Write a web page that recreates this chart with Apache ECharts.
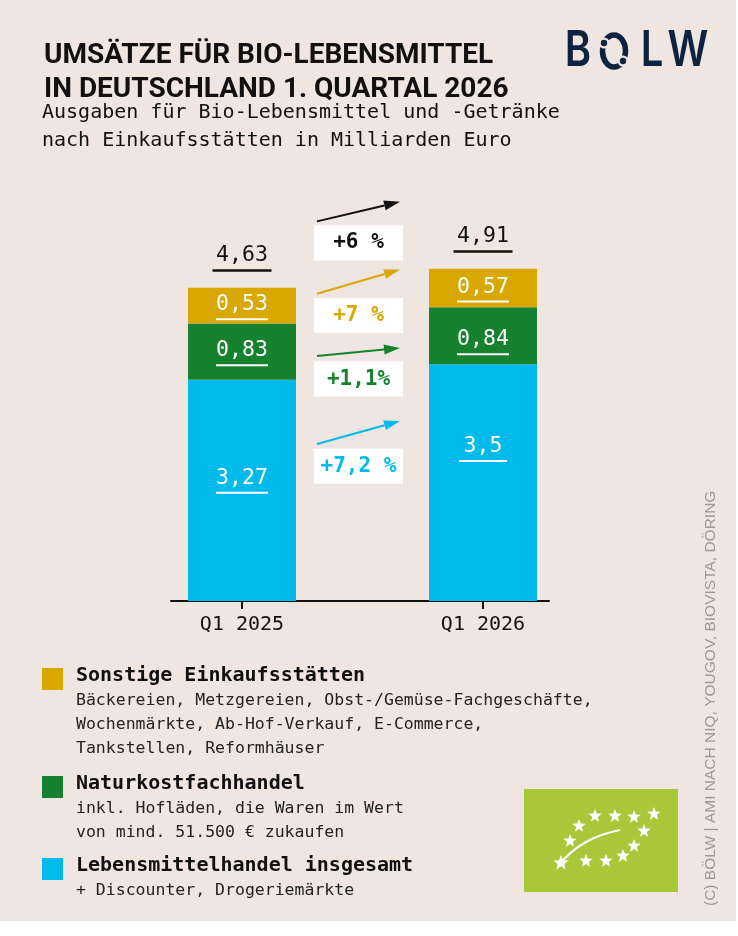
<!DOCTYPE html>
<html><head><meta charset="utf-8">
<script src="https://cdn.jsdelivr.net/npm/echarts@6/dist/echarts.min.js"></script>
<style>html,body{margin:0;padding:0;background:#fff}#c{width:738px;height:936px}</style>
</head><body><div id="c"></div>
<script>
// ---------- data ----------
const categories = ['Q1 2025', 'Q1 2026'];
const lebensmittelhandel = [3.27, 3.5];
const naturkost = [0.83, 0.84];
const sonstige = [0.53, 0.57];
const totals = [4.63, 4.91];
const changeLabels = ['+6 %', '+7 %', '+1,1%', '+7,2 %'];
const seriesNames = ['Sonstige Einkaufsstätten', 'Naturkostfachhandel', 'Lebensmittelhandel insgesamt'];
const legendDescriptions = [
  ['Bäckereien, Metzgereien, Obst-/Gemüse-Fachgeschäfte,', 'Wochenmärkte, Ab-Hof-Verkauf, E-Commerce,', 'Tankstellen, Reformhäuser'],
  ['inkl. Hofläden, die Waren im Wert', 'von mind. 51.500 € zukaufen'],
  ['+ Discounter, Drogeriemärkte']
];
const titleText = 'UMSÄTZE FÜR BIO-LEBENSMITTEL\nIN DEUTSCHLAND 1. QUARTAL 2026';
const subtitleText = 'Ausgaben für Bio-Lebensmittel und -Getränke\nnach Einkaufsstätten in Milliarden Euro';
const sourceText = '(C) BÖLW | AMI NACH NIQ, YOUGOV, BIOVISTA, DÖRING';

// ---------- layout / style ----------
const C_YELLOW = '#D8A700', C_GREEN = '#16822F', C_BLUE = '#00BAEB', C_BG = '#EFE6E2', C_INK = '#111111';
const MONO = '"DejaVu Sans Mono", monospace';
const changeColors = [C_INK, C_YELLOW, C_GREEN, C_BLUE];
// annotation levels in axis units: [arrow start, arrow end, box centre]
const changeLevels = [[5.61, 5.90, 5.29], [4.54, 4.90, 4.22], [3.62, 3.74, 3.28], [2.32, 2.66, 1.99]];
const blueLabelOffsets = [[0, -11], [0, -35]];
const greenLabelOffsets = [[0, 0], [0, 5]];

const fmt = v => String(v).replace('.', ',');

function segLabel(color, underlineColor) {
  return {
    show: true, position: 'inside',
    formatter: p => '{v|' + fmt(p.value) + '}\n{u|}',
    rich: {
      v: { fontFamily: MONO, fontSize: 21.5, color: color, lineHeight: 27, align: 'center' },
      u: { width: 52, height: 2, lineHeight: 2, backgroundColor: underlineColor, align: 'center' }
    }
  };
}
function buildItems(arr, offsets) {
  return arr.map((v, i) => {
    const item = { value: v };
    if (offsets) item.label = { offset: offsets[i] };
    if (fmt(v).length < 4) item.label = Object.assign(item.label || {}, { rich: { u: { width: 48, height: 2, lineHeight: 2, backgroundColor: '#fff', align: 'center' } } });
    return item;
  });
}

function starPoints(cx, cy, R) {
  const pts = [];
  for (let k = 0; k < 10; k++) {
    const r = k % 2 ? R * 0.42 : R;
    const a = -Math.PI / 2 + k * Math.PI / 5;
    pts.push([cx + r * Math.cos(a), cy + r * Math.sin(a)]);
  }
  return pts;
}
const euStars = [[595, 816, 7], [615, 816, 7], [634, 817, 7], [654, 814, 7], [579, 826, 7], [644, 831, 7],
  [570, 841, 7], [634, 846, 7], [623, 856, 7], [606, 861, 7], [586, 861, 7], [561, 863, 8]];

function renderChange(params, api) {
  const i = params.dataIndex;
  const c = changeColors[i];
  const xa = api.coord([0, 0])[0], xb = api.coord([1, 0])[0];
  const cx = (xa + xb) / 2 - 4;
  const p1 = [cx - 41.5, api.coord([0, api.value(1)])[1]];
  const p2 = [cx + 41.5, api.coord([1, api.value(2)])[1]];
  const yb = api.coord([0, api.value(3)])[1];
  const ang = Math.atan2(p2[1] - p1[1], p2[0] - p1[0]);
  const hl = 16, hw = 5;
  const bx = p2[0] - hl * Math.cos(ang), by = p2[1] - hl * Math.sin(ang);
  const nx = -Math.sin(ang) * hw, ny = Math.cos(ang) * hw;
  return {
    type: 'group', children: [
      { type: 'line', shape: { x1: p1[0], y1: p1[1], x2: bx, y2: by }, style: { stroke: c, lineWidth: 2 } },
      { type: 'polygon', shape: { points: [[p2[0], p2[1]], [bx + nx, by + ny], [bx - nx, by - ny]] }, style: { fill: c } },
      { type: 'rect', shape: { x: cx - 44.5, y: yb - 17.5, width: 89, height: 35 }, style: { fill: '#fff' } },
      { type: 'text', style: { x: cx, y: yb, text: changeLabels[i], fill: c, font: 'bold 21px ' + MONO, align: 'center', verticalAlign: 'middle', textAlign: 'center', textVerticalAlign: 'middle' } }
    ]
  };
}

// legend graphic built from names/descriptions
const legendColors = [C_YELLOW, C_GREEN, C_BLUE];
const legendTitleY = [676, 784, 866];
const legendGraphics = [];
seriesNames.forEach((name, i) => {
  const ty = legendTitleY[i];
  legendGraphics.push({ type: 'rect', shape: { x: 42, y: ty - 8, width: 21, height: 22 }, style: { fill: legendColors[i] } });
  legendGraphics.push({ type: 'text', x: 76, y: ty, style: { text: name, font: 'bold 20px ' + MONO, fill: C_INK, textVerticalAlign: 'middle', verticalAlign: 'middle' } });
  legendDescriptions[i].forEach((line, j) => {
    legendGraphics.push({ type: 'text', x: 76, y: ty + 25 + j * 24, style: { text: line, font: '16.5px ' + MONO, fill: '#222', textVerticalAlign: 'middle', verticalAlign: 'middle' } });
  });
});

const NAVY = '#0E2340';
const logoGraphics = [
  { type: 'text', x: 578, y: 51, scaleX: 0.8, style: { text: 'B', font: '600 50px Inter', fill: NAVY, textAlign: 'center', align: 'center', textVerticalAlign: 'middle', verticalAlign: 'middle' } },
  { type: 'ellipse', shape: { cx: 614, cy: 51, rx: 11.5, ry: 16 }, style: { fill: 'none', stroke: NAVY, lineWidth: 5.5 } },
  { type: 'circle', shape: { cx: 604, cy: 43, r: 5.5 }, style: { fill: C_BG } },
  { type: 'circle', shape: { cx: 604, cy: 43, r: 3.2 }, style: { fill: NAVY } },
  { type: 'circle', shape: { cx: 623, cy: 61, r: 5.5 }, style: { fill: C_BG } },
  { type: 'circle', shape: { cx: 623, cy: 61, r: 3.2 }, style: { fill: NAVY } },
  { type: 'text', x: 652, y: 51, scaleX: 0.8, style: { text: 'L', font: '600 50px Inter', fill: NAVY, textAlign: 'center', align: 'center', textVerticalAlign: 'middle', verticalAlign: 'middle' } },
  { type: 'text', x: 688, y: 51, scaleX: 0.8, style: { text: 'W', font: '600 50px Inter', fill: NAVY, textAlign: 'center', align: 'center', textVerticalAlign: 'middle', verticalAlign: 'middle' } }
];

const euGraphics = [{ type: 'rect', shape: { x: 524, y: 789, width: 154, height: 103 }, style: { fill: '#A8C83A' } }]
  .concat(euStars.map(s => ({ type: 'polygon', shape: { points: starPoints(s[0], s[1], s[2]) }, style: { fill: '#fff' } })))
  .concat([{ type: 'bezierCurve', shape: { x1: 558, y1: 866, cpx1: 575, cpy1: 845, cpx2: 595, cpy2: 835, x2: 620, y2: 830 }, style: { stroke: '#fff', lineWidth: 2.2, fill: 'none' } }]);

const chart = echarts.init(document.getElementById('c'));
chart.setOption({
  animation: false,
  backgroundColor: 'transparent',
  title: [
    { text: titleText, left: 39, top: 34, textStyle: { fontFamily: 'Roboto', fontWeight: 'bold', fontSize: 28, lineHeight: 34, color: C_INK } },
    { text: subtitleText, left: 37, top: 94, textStyle: { fontFamily: MONO, fontWeight: 'normal', fontSize: 20, lineHeight: 28, color: C_INK } }
  ],
  graphic: [
    { type: 'rect', z: -10, shape: { x: 0, y: 0, width: 736, height: 921 }, style: { fill: C_BG } },
    { type: 'text', x: 711, y: 906, rotation: Math.PI / 2, style: { text: sourceText, font: '15.5px "Liberation Sans"', fill: '#9a9a9a', textVerticalAlign: 'middle', verticalAlign: 'middle' } }
  ].concat(legendGraphics, logoGraphics, euGraphics),
  grid: [
    { left: 121.5, right: 134.5, top: 195, bottom: 335 },
    { left: 171, right: 189, top: 195, bottom: 335 }
  ],
  xAxis: [
    { type: 'category', gridIndex: 0, data: categories,
      axisLine: { show: false },
      axisTick: { show: true, alignWithLabel: true, length: 8, lineStyle: { color: C_INK, width: 2 } },
      axisLabel: { fontFamily: MONO, fontSize: 20, color: C_INK, margin: 14 } },
    { type: 'value', gridIndex: 1, min: 0, max: 1,
      axisLine: { show: true, lineStyle: { color: C_INK, width: 2 } },
      axisTick: { show: false }, axisLabel: { show: false }, splitLine: { show: false } }
  ],
  yAxis: [
    { type: 'value', gridIndex: 0, min: 0, max: 6, show: false, splitLine: { show: false } },
    { type: 'value', gridIndex: 1, min: 0, max: 1, show: false, splitLine: { show: false } }
  ],
  series: [
    { name: seriesNames[2], type: 'bar', stack: 'q', barWidth: 108, xAxisIndex: 0, yAxisIndex: 0,
      itemStyle: { color: C_BLUE }, data: buildItems(lebensmittelhandel, blueLabelOffsets), label: segLabel('#fff', '#fff') },
    { name: seriesNames[1], type: 'bar', stack: 'q', barWidth: 108, xAxisIndex: 0, yAxisIndex: 0,
      itemStyle: { color: C_GREEN }, data: buildItems(naturkost, greenLabelOffsets), label: segLabel('#fff', '#fff') },
    { name: seriesNames[0], type: 'bar', stack: 'q', barWidth: 108, xAxisIndex: 0, yAxisIndex: 0,
      itemStyle: { color: C_YELLOW }, data: buildItems(sonstige), label: segLabel('#fff', '#fff') },
    { name: 'Gesamt', type: 'scatter', xAxisIndex: 0, yAxisIndex: 0, symbolSize: 0, data: totals, silent: true,
      itemStyle: { opacity: 1, color: C_INK },
      label: { show: true, position: 'top', distance: 16, color: C_INK, opacity: 1,
        formatter: p => '{v|' + fmt(p.value) + '}\n{u|}',
        rich: {
          v: { fontFamily: MONO, fontSize: 21.5, color: C_INK, lineHeight: 27, align: 'center' },
          u: { width: 59, height: 2.5, lineHeight: 2.5, backgroundColor: C_INK, align: 'center' }
        } } },
    { name: 'Veränderung', type: 'custom', xAxisIndex: 0, yAxisIndex: 0, silent: true,
      data: changeLevels.map(l => [0, l[0], l[1], l[2]]), renderItem: renderChange, z: 5 }
  ]
});
</script></body></html>
